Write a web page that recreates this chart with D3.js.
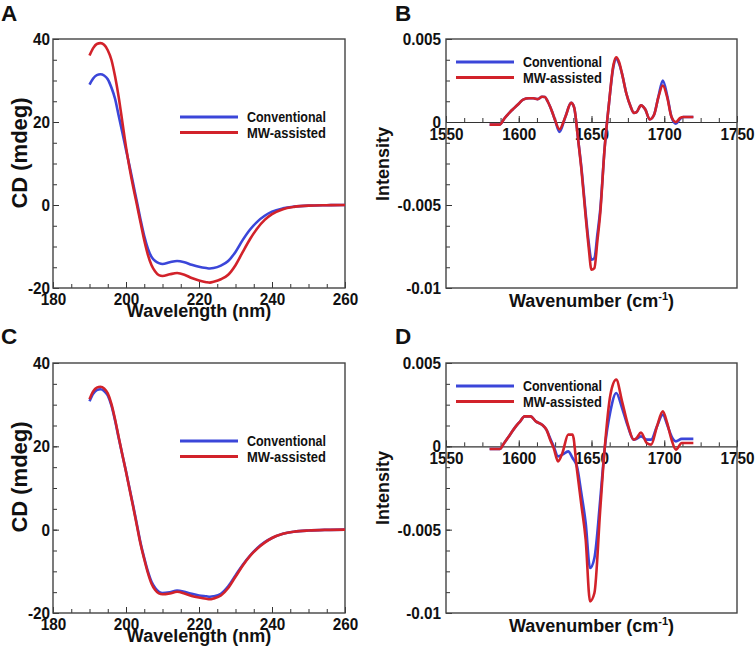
<!DOCTYPE html>
<html>
<head>
<meta charset="utf-8">
<script src="https://cdn.jsdelivr.net/npm/d3@7"></script>
<style>
  body { margin: 0; background: #fff; }
  text { font-family: "Liberation Sans", Arial, sans-serif; font-weight: bold; fill: #111; }
</style>
</head>
<body>
<svg id="fig" width="756" height="649"></svg>
<script>
// CD spectra (panels A and C)
var cdWave = [190,191,192,193,194,195,196,197,198,199,200,201,202,203,204,205,206,207,208,209,210,212,214,216,218,220,222,223,224,226,228,230,232,234,236,238,240,243,246,250,255,260];
var cdConvA = [29.0,30.5,31.3,31.5,31.2,30.3,28.3,25.6,21.5,17.5,13.3,9.3,5.0,0.7,-3.6,-7.5,-10.5,-12.5,-13.5,-14.0,-14.2,-13.8,-13.5,-13.8,-14.4,-14.9,-15.2,-15.3,-15.2,-14.6,-13.5,-11.3,-8.4,-5.9,-4.0,-2.6,-1.6,-0.8,-0.4,-0.15,-0.05,0];
var cdMwA   = [36.0,37.8,38.8,39.0,38.6,37.3,35.0,31.0,26.0,20.0,14.0,8.8,4.2,0.0,-4.3,-8.5,-12.0,-14.5,-16.0,-16.9,-17.1,-16.7,-16.4,-16.8,-17.6,-18.2,-18.6,-18.7,-18.5,-17.9,-16.8,-14.5,-11.3,-8.2,-5.6,-3.6,-2.2,-1.0,-0.45,-0.15,-0.05,0];
var cdConvC = [30.8,32.6,33.5,33.7,33.3,32.2,29.8,26.2,22.0,18.0,14.0,9.8,5.6,1.2,-3.2,-6.8,-10.0,-12.5,-14.0,-14.9,-15.2,-15.0,-14.6,-14.9,-15.4,-15.8,-16.0,-16.1,-16.0,-15.4,-13.6,-11.0,-8.4,-6.2,-4.4,-3.0,-2.0,-1.0,-0.5,-0.2,-0.05,0];
var cdMwC   = [31.3,33.2,34.1,34.3,33.9,32.7,30.2,26.5,22.2,18.0,13.9,9.6,5.3,0.9,-3.5,-7.1,-10.4,-13.0,-14.5,-15.3,-15.5,-15.3,-14.9,-15.3,-15.9,-16.3,-16.6,-16.7,-16.5,-15.8,-14.0,-11.3,-8.6,-6.3,-4.5,-3.1,-2.0,-1.0,-0.5,-0.2,-0.05,0];

// IR second derivative (panels B and D)
var irWaveB = [1580,1587,1590,1594,1597,1600,1603,1607,1610,1613,1616,1618,1620,1623,1625,1628,1632,1636,1638,1641,1643,1646,1648,1650,1652,1654,1656,1659,1662,1665,1667,1669,1671,1674,1677,1679,1681,1684,1687,1690,1693,1696,1699,1702,1705,1708,1711,1713,1720];
var irConvB = [-0.00016,-0.00016,0.0002,0.0006,0.00085,0.0011,0.00135,0.00143,0.00143,0.00138,0.00152,0.0015,0.00122,0.0006,0.0001,-0.0006,0.0003,0.00115,0.0009,-0.0012,-0.0027,-0.0055,-0.0072,-0.0083,-0.0082,-0.0068,-0.0053,-0.0016,0.0011,0.0033,0.0038,0.0035,0.0029,0.0017,0.0009,0.00055,0.0006,0.001,0.00075,0.00016,0.00044,0.00153,0.0025,0.0016,0.0003,-0.0001,0.0002,0.0003,0.0003];
var irMwB   = [-0.00016,-0.00016,0.0002,0.0006,0.00085,0.0011,0.00135,0.00143,0.00143,0.00138,0.00152,0.0015,0.00122,0.0006,0.0001,-0.00044,0.0003,0.00115,0.0009,-0.0012,-0.0028,-0.0057,-0.0075,-0.0089,-0.0088,-0.0072,-0.0055,-0.0016,0.0011,0.0034,0.0039,0.0036,0.0029,0.0017,0.0009,0.00055,0.0006,0.001,0.00075,0.00016,0.00044,0.0015,0.0022,0.0015,0.0003,0.0,0.00025,0.0003,0.0003];
var irWaveD = [1580,1587,1590,1594,1598,1601,1604,1608,1612,1616,1619,1622,1624,1627,1630,1634,1637,1640,1643,1646,1649,1652,1656,1659,1663,1667,1671,1675,1679,1681,1684,1688,1691,1695,1699,1702,1705,1708,1712,1720];
var irConvD = [-0.00016,-0.00016,0.0002,0.0007,0.0012,0.0015,0.0018,0.0018,0.00148,0.0013,0.001,0.0004,0.0,-0.0006,-0.0005,-0.0003,-0.0007,-0.0012,-0.0028,-0.0046,-0.0073,-0.0067,-0.0032,-0.0002,0.0021,0.0032,0.0023,0.0012,0.0004,0.00045,0.0006,0.0004,0.0004,0.0012,0.0019,0.0013,0.0006,0.0003,0.00045,0.00045];
var irMwD   = [-0.00016,-0.00016,0.0002,0.0007,0.0012,0.0015,0.0018,0.0018,0.00148,0.0013,0.001,0.0003,-0.0001,-0.0009,-0.0004,0.0007,0.0007,-0.0014,-0.0035,-0.0056,-0.0093,-0.0088,-0.0038,-0.0002,0.0031,0.004,0.0027,0.0013,0.0004,0.0005,0.00082,0.0002,0.0001,0.0012,0.0021,0.0014,0.0004,-0.0002,0.0002,0.0002];

var cdXTicks = [180,200,220,240,260];
var cdYTicks = [-20,0,20,40];
var irXTicks = [1550,1600,1650,1700,1750];
var irYTicks = [-0.01,-0.005,0,0.005];
var seriesNames = ["Conventional","MW-assisted"];
var seriesColors = ["#3b46d9","#d2222a"];

var svg = d3.select("#fig");
var fmt = function(d){ return String(d); };

function minorTicks(lo, hi, step){
  var out = [];
  for (var v = lo; v <= hi + step/1000; v += step) out.push(+v.toFixed(6));
  return out;
}

// the source figure uses a slightly narrow bold face for ticks and legend
function condense(sel, k){
  sel.each(function(){
    var len = this.getComputedTextLength();
    d3.select(this).attr("textLength", len * k).attr("lengthAdjust", "spacingAndGlyphs");
  });
}

function drawPanel(o){
  var g = svg.append("g").attr("transform", "translate(" + o.left + "," + o.top + ")");
  var x = d3.scaleLinear().domain(o.xDomain).range([0, o.w]);
  var y = d3.scaleLinear().domain(o.yDomain).range([o.h, 0]);
  var axisY = o.zeroAxis ? y(0) : o.h;

  // minor ticks
  g.append("g").attr("transform", "translate(0," + axisY + ")")
    .call(d3.axisBottom(x).tickValues(o.xMinor).tickSize(-4).tickFormat(""))
    .call(function(s){ s.select(".domain").remove(); });
  g.append("g")
    .call(d3.axisLeft(y).tickValues(o.yMinor).tickSize(-4).tickFormat(""))
    .call(function(s){ s.select(".domain").remove(); });

  // major ticks
  var xa = g.append("g").attr("transform", "translate(0," + axisY + ")")
    .call(d3.axisBottom(x).tickValues(o.xTicks).tickSizeInner(-6).tickSizeOuter(0).tickPadding(o.xPad).tickFormat(fmt));
  xa.selectAll("text").style("font-size", "17px");
  if (!o.zeroAxis) xa.select(".domain").remove();

  var ya = g.append("g")
    .call(d3.axisLeft(y).tickValues(o.yTicks).tickSizeInner(-6).tickSizeOuter(0).tickPadding(o.yPad).tickFormat(fmt));
  ya.select(".domain").remove();
  ya.selectAll("text").style("font-size", "17px");
  condense(xa.selectAll("text"), 0.9);
  condense(ya.selectAll("text"), 0.9);

  g.selectAll(".tick line").attr("stroke", "#333").attr("stroke-width", 1);
  g.selectAll(".domain").attr("stroke", "#333").attr("stroke-width", 1.2);

  // frame
  g.append("rect").attr("x", 0).attr("y", 0).attr("width", o.w).attr("height", o.h)
    .attr("fill", "none").attr("stroke", "#444").attr("stroke-width", 1.4);

  // curves
  var line = d3.line()
    .x(function(d, i){ return x(o.xs[i]); })
    .y(function(d){ return y(d); })
    .curve(d3.curveMonotoneX);
  o.series.forEach(function(s, k){
    g.append("path").attr("d", line(s)).attr("fill", "none")
      .attr("stroke", seriesColors[k]).attr("stroke-width", 2.6)
      .attr("stroke-linejoin", "round");
  });

  // legend
  seriesNames.forEach(function(name, k){
    var ly = o.legY + k * 15.5;
    g.append("line").attr("x1", o.legX).attr("x2", o.legX + 58).attr("y1", ly).attr("y2", ly)
      .attr("stroke", seriesColors[k]).attr("stroke-width", 2.8);
    g.append("text").attr("x", o.legX + 67).attr("y", ly).attr("dy", "0.36em")
      .style("font-size", "15px").text(name)
      .attr("textLength", 79).attr("lengthAdjust", "spacingAndGlyphs");
  });

  // axis titles
  var xt = g.append("text").attr("x", o.w / 2).attr("y", o.h + o.xTitleY)
    .attr("text-anchor", "middle").style("font-size", "18px");
  if (o.xSup) {
    xt.append("tspan").text(o.xTitle);
    xt.append("tspan").attr("dy", -7).style("font-size", "11px").text(o.xSup);
    xt.append("tspan").attr("dy", 7).text(")");
  } else {
    xt.text(o.xTitle);
  }
  g.append("text").attr("transform", "translate(" + o.yTitleX + "," + o.yTitleC + ") rotate(-90)")
    .attr("text-anchor", "middle").style("font-size", o.yTitleSize).text(o.yTitle);

  // panel letter
  svg.append("text").attr("x", o.letterX).attr("y", o.letterY)
    .style("font-size", "22.5px").text(o.letter);
}

var cdBase = {
  xDomain: [180, 260], yDomain: [-20, 40], w: 292,
  xTicks: cdXTicks, yTicks: cdYTicks,
  xMinor: minorTicks(180, 260, 5), yMinor: minorTicks(-20, 40, 5),
  xPad: 5, yPad: 3, xs: cdWave, zeroAxis: false,
  legX: 127, legY: 78, xTitle: "Wavelength (nm)", xTitleY: 29,
  yTitle: "CD (mdeg)", yTitleX: -26, yTitleC: 114, yTitleSize: "22px", letterX: 1
};
var irBase = {
  xDomain: [1550, 1750], yDomain: [-0.01, 0.005], w: 291,
  xTicks: irXTicks, yTicks: irYTicks,
  xMinor: minorTicks(1550, 1750, 12.5), yMinor: minorTicks(-0.01, 0.005, 0.00125),
  xPad: 6, yPad: 5, zeroAxis: true,
  legX: 10, legY: 23, xTitle: "Wavenumber (cm", xSup: "-1", xTitleY: 19,
  yTitle: "Intensity", yTitleX: -57, yTitleC: 125, yTitleSize: "18px", letterX: 395
};

drawPanel(Object.assign({}, cdBase, { left: 53, top: 39, h: 249, series: [cdConvA, cdMwA], letter: "A", letterY: 21 }));
drawPanel(Object.assign({}, irBase, { left: 446, top: 39, h: 249, xs: irWaveB, series: [irConvB, irMwB], letter: "B", letterY: 21 }));
drawPanel(Object.assign({}, cdBase, { left: 53, top: 363, h: 250, series: [cdConvC, cdMwC], letter: "C", letterY: 344 }));
drawPanel(Object.assign({}, irBase, { left: 446, top: 363, h: 250, xs: irWaveD, series: [irConvD, irMwD], letter: "D", letterY: 344 }));
</script>
</body>
</html>
